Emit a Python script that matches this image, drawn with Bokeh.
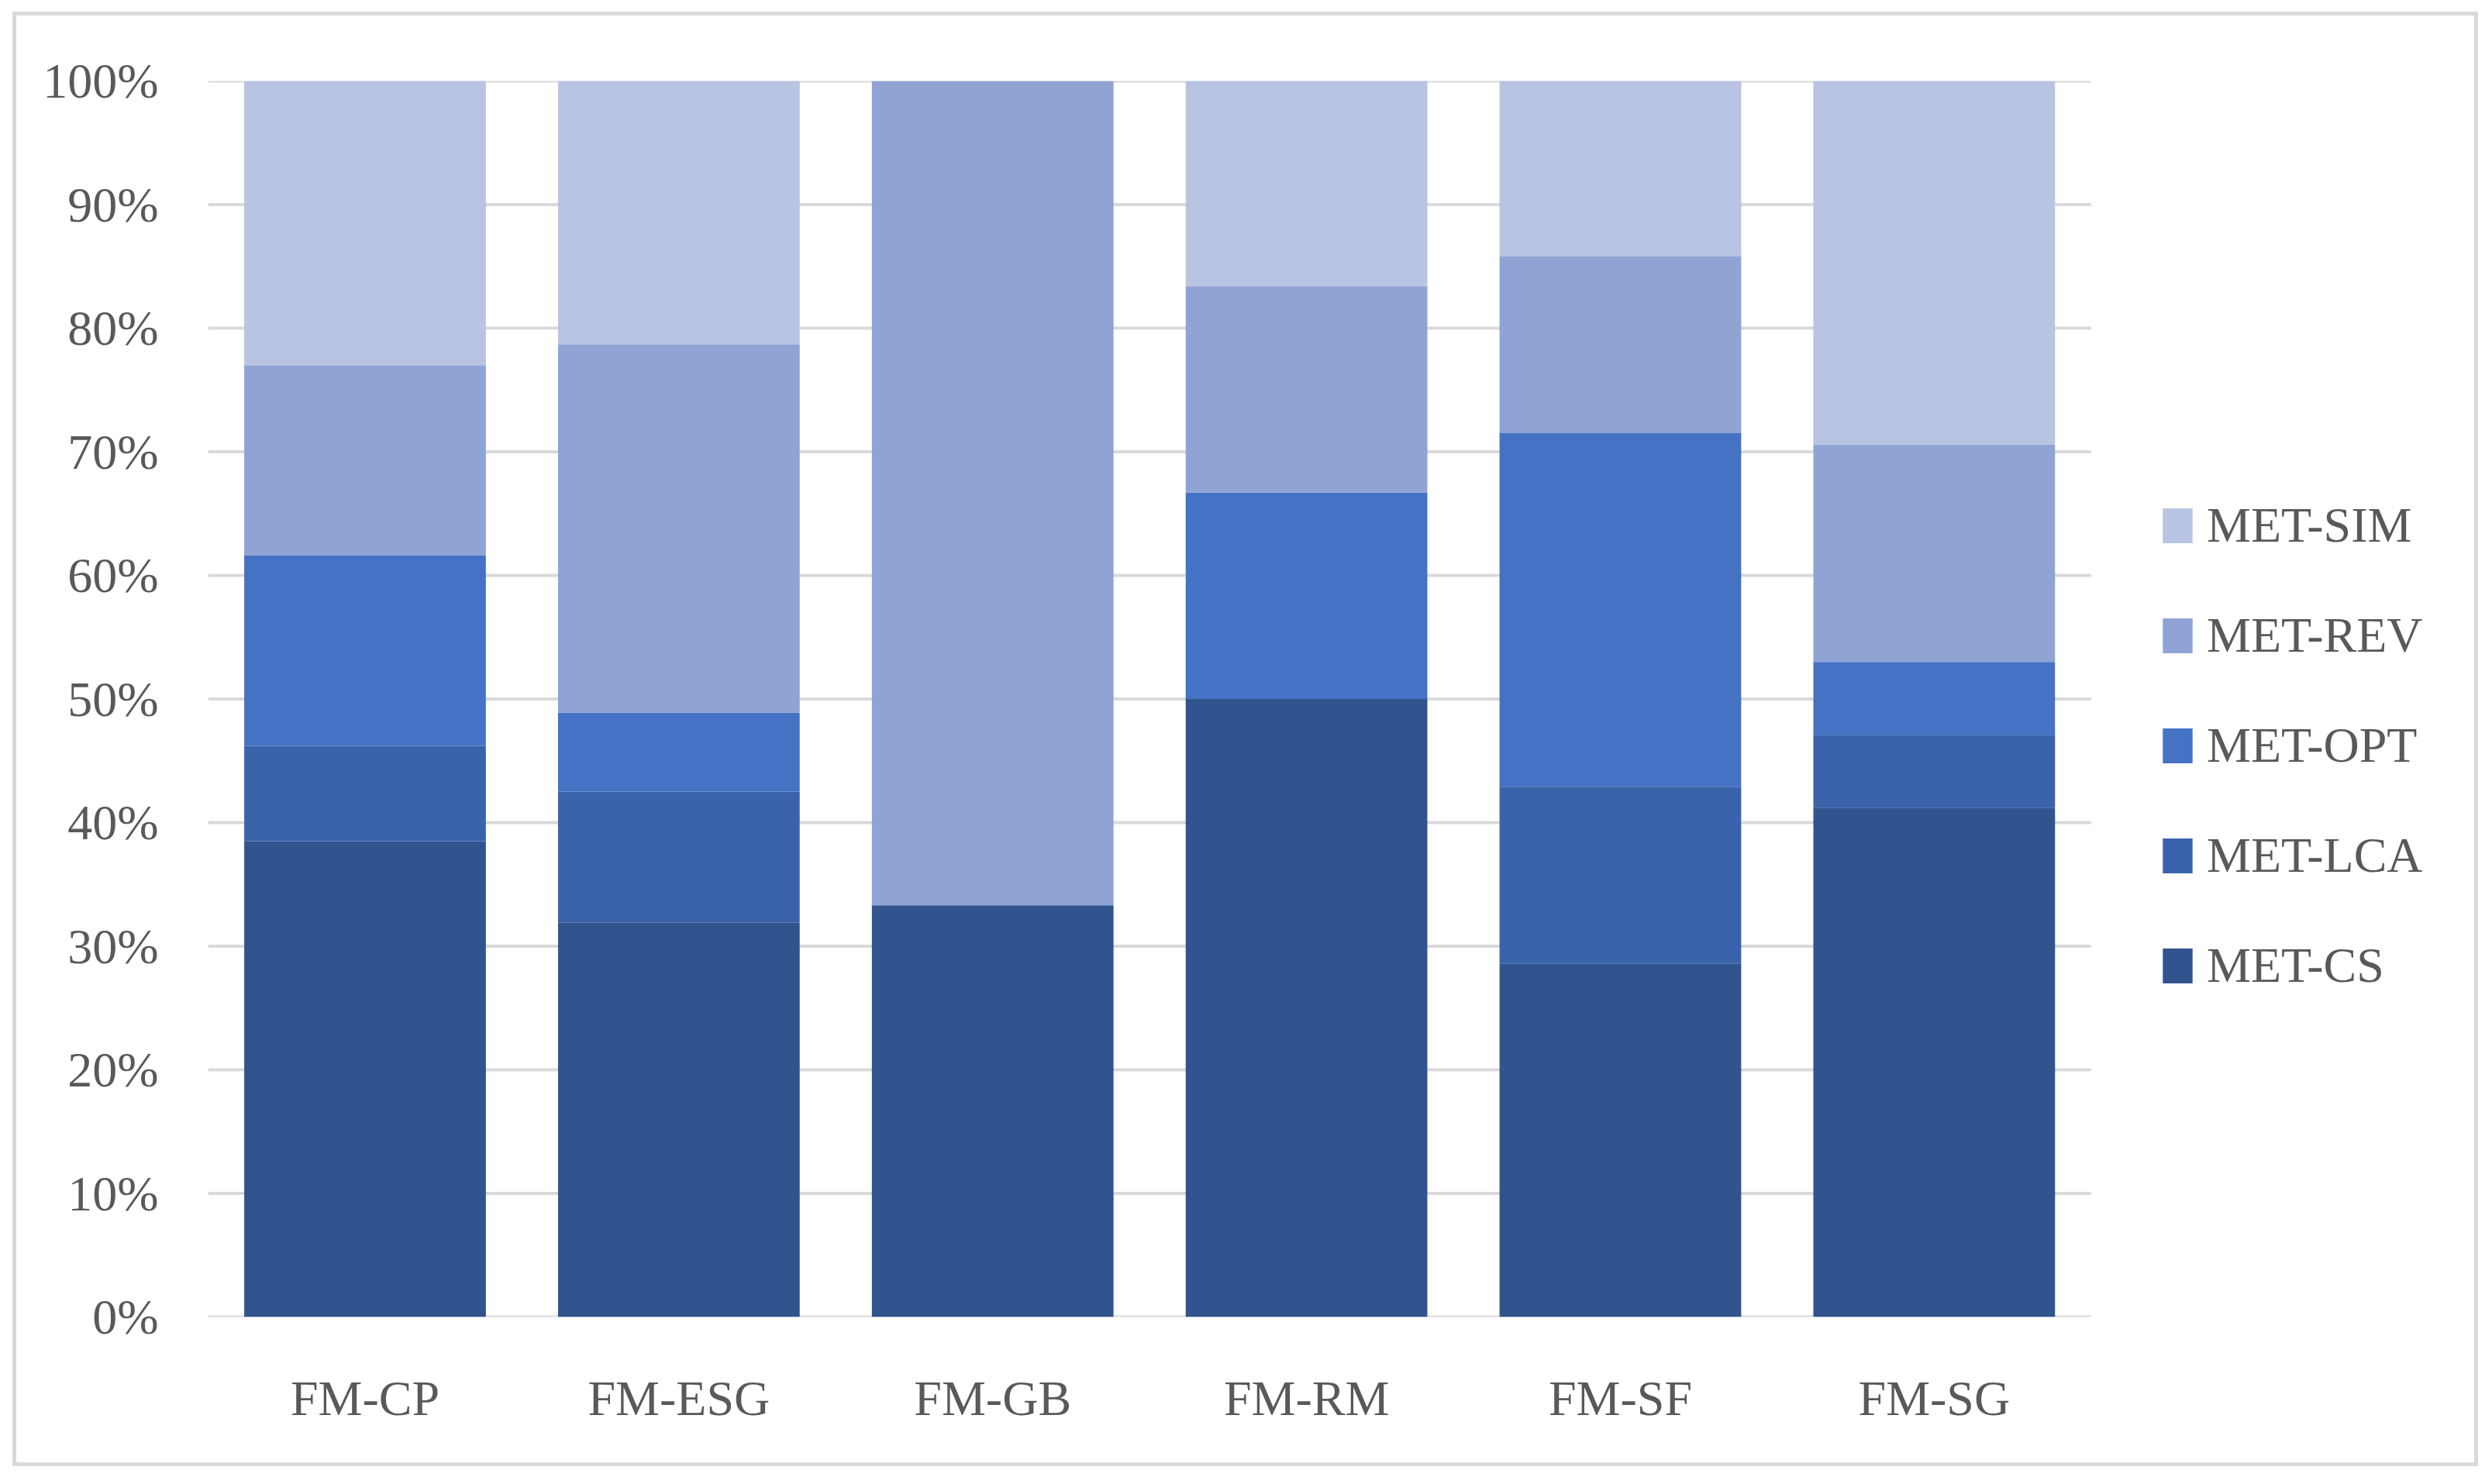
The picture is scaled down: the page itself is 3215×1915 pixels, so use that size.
import numpy as np
from bokeh.plotting import figure
from bokeh.layouts import column, row
from bokeh.models import (ColumnDataSource, Range1d, FixedTicker, PrintfTickFormatter,
                          Legend, LegendItem, Spacer)
from bokeh.embed import file_html
from bokeh.resources import INLINE

# ---- data (percent shares) ----
categories = ["FM-CP", "FM-ESG", "FM-GB", "FM-RM", "FM-SF", "FM-SG"]
series = ["MET-CS", "MET-LCA", "MET-OPT", "MET-REV", "MET-SIM"]
met_cs  = [38.5, 31.9, 33.3, 50.0, 28.6, 41.2]
met_lca = [7.7, 10.6, 0.0, 0.0, 14.3, 5.9]
met_opt = [15.4, 6.4, 0.0, 16.7, 28.6, 5.9]
met_rev = [15.4, 29.8, 66.7, 16.7, 14.3, 17.6]
met_sim = [23.1, 21.3, 0.0, 16.7, 14.3, 29.4]
y_ticks = [0, 10, 20, 30, 40, 50, 60, 70, 80, 90, 100]

colors = ["#31548F", "#3A63AB", "#4472C4", "#8FA3D4", "#B9C3E2"]
FONT = "Liberation Serif"
TXT = "#595959"
GRID = "#D9D9D9"

# layout geometry (pixels)
W, H = 3171, 1867
MB_L, MB_R, MB_T, MB_B = 247, 12, 84, 198
CAT_PX = 403.5                       # pixel width of one category slot
frame_w = W - MB_L - MB_R
x_end = frame_w / CAT_PX             # extra room on the right holds the legend

xpos = (np.arange(len(categories)) + 0.5).tolist()
src = ColumnDataSource(dict(x=xpos, cat=categories, **{
    "MET-CS": met_cs, "MET-LCA": met_lca, "MET-OPT": met_opt,
    "MET-REV": met_rev, "MET-SIM": met_sim}))

p = figure(x_range=Range1d(0, x_end), y_range=Range1d(0, 100),
           width=W, height=H, output_backend="svg", toolbar_location=None,
           min_border_left=MB_L, min_border_right=MB_R, min_border_top=MB_T, min_border_bottom=MB_B,
           styles={"border": "5px solid #D9D9D9", "box-sizing": "content-box"})
p.outline_line_color = None
p.background_fill_color = "white"
p.border_fill_color = "white"
p.xgrid.grid_line_color = None
p.ygrid.grid_line_color = None

# horizontal gridlines spanning the category area only
p.segment(x0=[0] * len(y_ticks), x1=[len(categories)] * len(y_ticks), y0=y_ticks, y1=y_ticks,
          line_color=GRID, line_width=4, level="underlay")

rs = p.vbar_stack(series, x="x", width=0.77, source=src, color=colors, line_color=None)

p.xaxis.ticker = FixedTicker(ticks=xpos)
p.xaxis.major_label_overrides = {x: c for x, c in zip(xpos, categories)}
p.yaxis.ticker = FixedTicker(ticks=y_ticks)
p.yaxis.formatter = PrintfTickFormatter(format="%d%%")
for ax in (p.xaxis[0], p.yaxis[0]):
    ax.axis_line_color = None
    ax.major_tick_line_color = None
    ax.minor_tick_line_color = None
    ax.major_label_text_font = FONT
    ax.major_label_text_font_size = "64px"
    ax.major_label_text_color = TXT
p.yaxis.major_label_standoff = 58
p.xaxis.major_label_standoff = 63

items = [LegendItem(label=s, renderers=[r]) for s, r in zip(series, rs)][::-1]
legend = Legend(items=items, location=(2517, 382), orientation="vertical",
                glyph_width=48, glyph_height=56, label_height=142, spacing=0,
                label_standoff=14, padding=0, margin=0,
                border_line_color=None, background_fill_alpha=0,
                label_text_font=FONT, label_text_font_size="64px", label_text_color=TXT)
p.add_layout(legend, "center")

layout = column(Spacer(height=15), row(Spacer(width=16), p))
open("out.html", "w").write(file_html(layout, INLINE))
